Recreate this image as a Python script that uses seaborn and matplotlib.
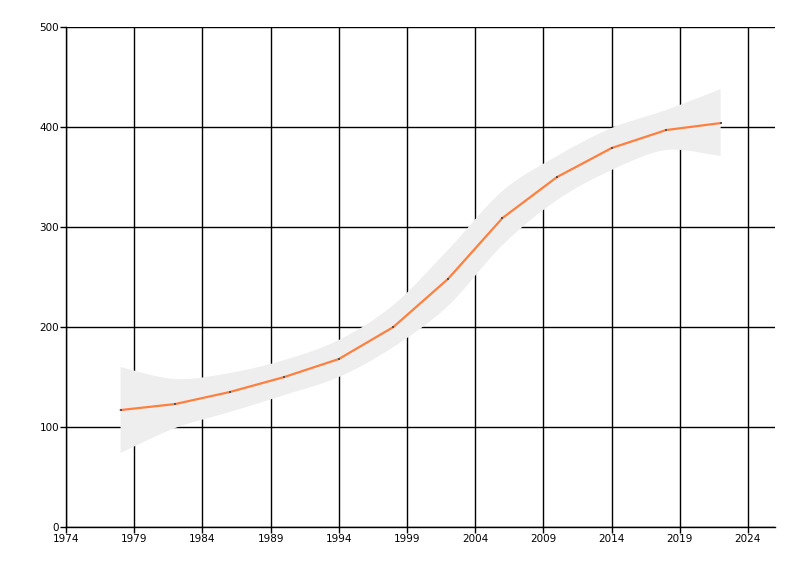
import matplotlib
matplotlib.use("Agg")
import matplotlib.pyplot as plt
from matplotlib.path import Path
from matplotlib.patches import PathPatch
import seaborn as sns
import numpy as np
import pandas as pd

years = [1978, 1982, 1986, 1990, 1994, 1998, 2002, 2006, 2010, 2014, 2018, 2022]
values = [117, 123, 135, 150, 168, 200, 248, 309, 350, 379, 397, 404]
band_upper = [160, 148, 154, 167, 187, 222, 277, 336, 371, 399, 417, 438]
band_lower = [74, 99, 115, 132, 150, 180, 221, 282, 327, 357, 377, 371]
x_ticks = list(range(1974, 2025, 5))
y_ticks = [0, 100, 200, 300, 400, 500]


def smooth_segments(pts):
    # catmull-rom -> cubic bezier path codes/vertices through the given points
    pts = np.asarray(pts, dtype=float)
    ext = np.vstack([pts[0], pts, pts[-1]])
    verts, codes = [], []
    for i in range(1, len(ext) - 2):
        p0, p1, p2, p3 = ext[i - 1], ext[i], ext[i + 1], ext[i + 2]
        verts += [p1 + (p2 - p0) / 6, p2 - (p3 - p1) / 6, p2]
        codes += [Path.CURVE4] * 3
    return verts, codes


sns.set_style("white")
plt.rcParams['font.family'] = ['DejaVu Sans']

df = pd.DataFrame({"year": years, "value": values})

fig = plt.figure(figsize=(8, 5.76), dpi=100)
ax = fig.add_axes([0.0825, 0.085, 0.8865, 0.868])

# grid drawn first, band covers it
for t in x_ticks:
    ax.axvline(t, color="black", lw=1, zorder=1)
for t in y_ticks:
    ax.axhline(t, color="black", lw=1, zorder=1)

up = list(zip(years, band_upper))
lo = list(zip(years, band_lower))[::-1]
v1, c1 = smooth_segments(up)
v2, c2 = smooth_segments(lo)
verts = [up[0]] + v1 + [lo[0]] + v2 + [up[0]]
codes = [Path.MOVETO] + c1 + [Path.LINETO] + c2 + [Path.CLOSEPOLY]
ax.add_patch(PathPatch(Path(verts, codes), facecolor="#eeeeee", lw=0, zorder=2))

sns.lineplot(data=df, x="year", y="value", ax=ax, color="#ff7f3f", lw=1.6,
             marker="s", markersize=1.8, markerfacecolor="#555555",
             markeredgewidth=0, zorder=3)

ax.set_xlim(1974, 2026)
ax.set_ylim(0, 500)
ax.set_xticks(x_ticks)
ax.set_yticks(y_ticks)
ax.set_xlabel("")
ax.set_ylabel("")
ax.tick_params(axis="both", direction="out", length=4, width=1, color="black",
               labelsize=7.5, labelcolor="black", pad=1,
               bottom=True, left=True)
for side in ["top", "right"]:
    ax.spines[side].set_visible(False)
for side in ["left", "bottom"]:
    ax.spines[side].set_color("black")
    ax.spines[side].set_linewidth(1)
    ax.spines[side].set_zorder(4)

plt.savefig("out.png", dpi=100)
